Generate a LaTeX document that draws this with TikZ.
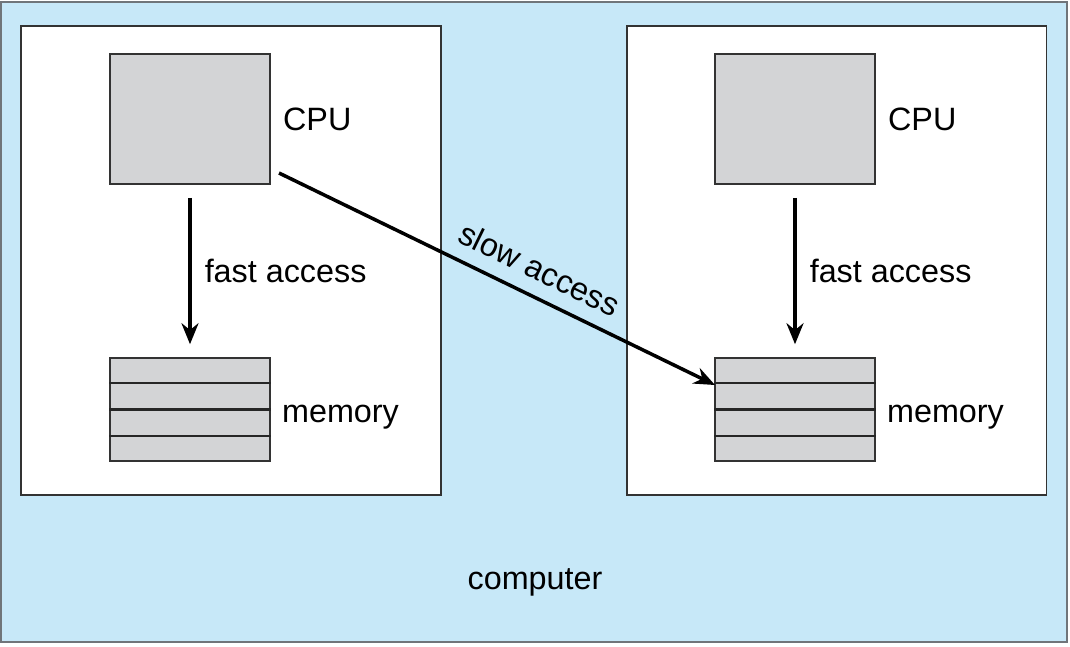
\documentclass[tikz,border=0pt]{standalone}
\usepackage{fontspec}
\setmainfont{Liberation Sans}
\usetikzlibrary{calc}
\usetikzlibrary{positioning}
\usetikzlibrary{arrows.meta}

\definecolor{bgblue}{HTML}{C7E8F8}
\definecolor{unitgray}{HTML}{D3D4D6}
\definecolor{rimgray}{HTML}{70757A}

\begin{document}
\begin{tikzpicture}[%
  x=0.02cm, y=-0.02cm,
  >={Stealth[length=4.2mm,width=3.4mm]},
  host/.style={draw=black!80, fill=white, line width=1.1pt,
    minimum width=8.4cm, minimum height=9.38cm, inner sep=0pt},
  unit/.style={draw=black!80, fill=unitgray, line width=0.9pt,
    minimum width=3.2cm, inner sep=0pt},
  lbl/.style={inner sep=0pt, font=\fontsize{18.4}{22}\selectfont},
  link/.style={->, line width=2pt},
]

  \useasboundingbox (0,0) rectangle (1070,646);
  \draw[rimgray, fill=bgblue, line width=1.4pt] (1,2) rectangle (1067,642);

  \node[host] (hostL) at (231,260.5) {};
  \node[host] (hostR) at (836.5,260.5) {};

  \node[unit, minimum height=2.6cm] (cpuL) at (190,119) {};
  \node[unit, minimum height=2.6cm] (cpuR) at (795,119) {};
  \node[unit, minimum height=2.06cm] (memL) at (190,409.5) {};
  \node[unit, minimum height=2.06cm] (memR) at (795,409.5) {};

  % rows of the memory stacks
  \foreach \m in {memL,memR}
    \foreach \k in {1,2,3}
      \draw[black!85, line width=1.2pt]
        ($(\m.north west)!\k/4!(\m.south west)$) --
        ($(\m.north east)!\k/4!(\m.south east)$);

  \node[lbl, right=0.24cm of cpuL] {CPU};
  \node[lbl, right=0.24cm of cpuR] {CPU};
  \node[lbl, right=0.22cm of memL, yshift=-0.16cm] {memory};
  \node[lbl, right=0.22cm of memR, yshift=-0.16cm] {memory};

  \draw[link, shorten <=0.26cm, shorten >=0.26cm] (cpuL) --
    node[lbl, midway, right=0.26cm] {fast access} (memL);
  \draw[link, shorten <=0.26cm, shorten >=0.26cm] (cpuR) --
    node[lbl, midway, right=0.26cm] {fast access} (memR);

  \coordinate (slowS) at (279,173);
  \coordinate (slowE) at (715,385);
  \draw[link] (slowS) --
    node[lbl, pos=0.57, sloped, above=0.28cm] {slow access} (slowE);

  \node[lbl] (comp) at (535,582) {computer};

\end{tikzpicture}
\end{document}
